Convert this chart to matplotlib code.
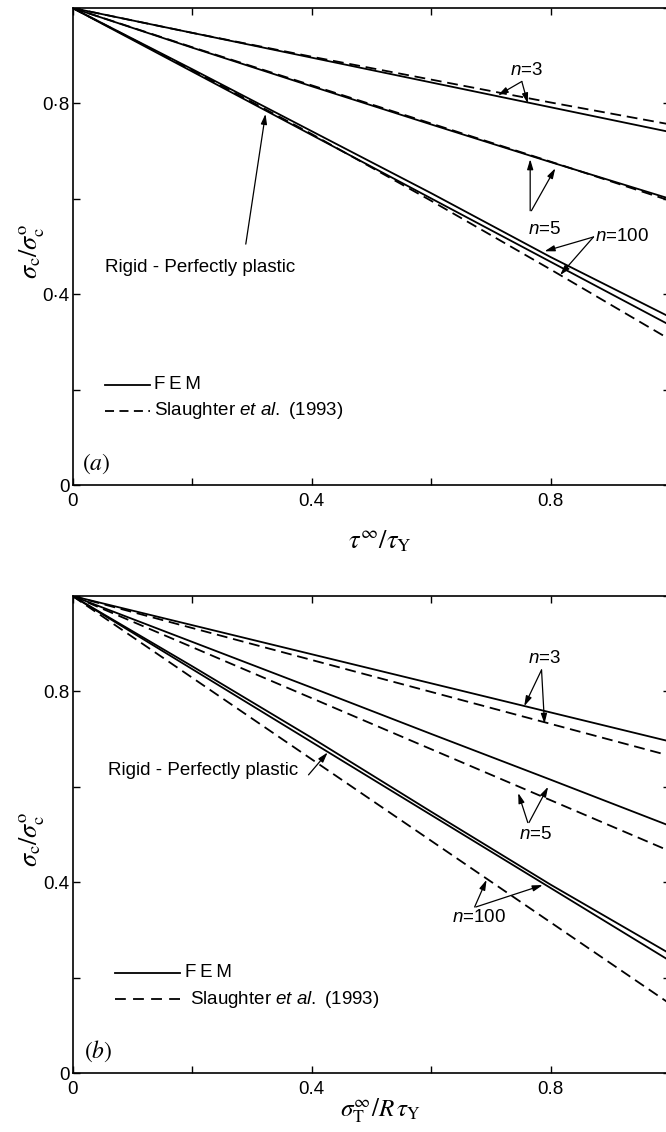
import matplotlib
matplotlib.use("Agg")
import matplotlib.pyplot as plt

plt.rcParams['font.family'] = ['Liberation Sans', 'DejaVu Sans']
plt.rcParams['mathtext.fontset'] = 'custom'
plt.rcParams['mathtext.rm'] = 'Liberation Sans'
plt.rcParams['mathtext.it'] = 'Liberation Sans:italic'

# ---------------- data ----------------
x_vals = [0.0, 0.2, 0.4, 0.6, 0.8, 1.0]

# panel (a): shear loading
a_n3_fem = [1.0, 0.948, 0.896, 0.844, 0.792, 0.740]
a_n3_sl = [1.0, 0.948, 0.898, 0.850, 0.802, 0.756]
a_n5_fem = [1.0, 0.917, 0.836, 0.756, 0.677, 0.600]
a_n5_sl = [1.0, 0.918, 0.838, 0.758, 0.678, 0.596]
a_n100_fem = [1.0, 0.872, 0.742, 0.612, 0.478, 0.352]
a_n100_sl = [1.0, 0.870, 0.736, 0.596, 0.452, 0.305]
a_rpp = [1.0, 0.867, 0.734, 0.601, 0.468, 0.335]

# panel (b): transverse loading
b_n3_fem = [1.0, 0.939, 0.878, 0.817, 0.756, 0.695]
b_n3_sl = [1.0, 0.933, 0.866, 0.799, 0.732, 0.665]
b_n5_fem = [1.0, 0.904, 0.808, 0.711, 0.615, 0.518]
b_n5_sl = [1.0, 0.893, 0.786, 0.679, 0.572, 0.465]
b_n100_fem = [1.0, 0.853, 0.703, 0.548, 0.395, 0.250]
b_n100_sl = [1.0, 0.829, 0.658, 0.487, 0.316, 0.145]
b_rpp = [1.0, 0.847, 0.694, 0.541, 0.388, 0.235]

tick_pos = [0.0, 0.2, 0.4, 0.6, 0.8, 1.0]
a_xticklabels = ['0', '', '0.4', '', '0.8', '']
a_yticklabels = ['0', '', '0\u00b74', '', '0\u00b78', '']
b_xticklabels = ['0', '', '0.4', '', '0.8', '']
b_yticklabels = ['0', '', '0.4', '', '0.8', '']

LW = 1.3
DASH = (6, 3.2)
FS = 13.5

fig = plt.figure(figsize=(6.66, 11.32), dpi=100)
W, H = 666.0, 1132.0
ax_a = fig.add_axes([72.5 / W, (H - 485) / H, 597.5 / W, 477 / H])
ax_b = fig.add_axes([72.5 / W, (H - 1073) / H, 597.5 / W, 477 / H])


def style_axes(ax, xtl, ytl):
    ax.set_xlim(0, 1.0)
    ax.set_ylim(0, 1.0)
    ax.set_xticks(tick_pos)
    ax.set_yticks(tick_pos)
    ax.set_xticklabels(xtl)
    ax.set_yticklabels(ytl)
    ax.tick_params(direction='in', top=True, right=True, length=5, width=1.0,
                   labelsize=FS, color='black')
    ax.tick_params(axis='y', pad=2)
    ax.tick_params(axis='x', pad=6)
    for s in ax.spines.values():
        s.set_linewidth(1.2)


def arrow(ax, tail, tip):
    ax.annotate('', xy=tip, xytext=tail,
                arrowprops=dict(arrowstyle='-|>,head_length=0.6,head_width=0.18',
                                color='black', lw=0.9, shrinkA=0, shrinkB=0))


# ---------------- panel (a) ----------------
ax = ax_a
for ys in (a_n3_fem, a_n5_fem, a_n100_fem, a_rpp):
    ax.plot(x_vals, ys, color='black', lw=LW)
for ys in (a_n3_sl, a_n5_sl, a_n100_sl):
    ax.plot(x_vals, ys, color='black', lw=LW, dashes=DASH)
style_axes(ax, a_xticklabels, a_yticklabels)

ax.text(0.76, 0.868, r'$n$=3', fontsize=FS, ha='center', va='center')
arrow(ax, (0.752, 0.846), (0.712, 0.817))
arrow(ax, (0.752, 0.846), (0.762, 0.800))

ax.text(0.79, 0.535, r'$n$=5', fontsize=FS, ha='center', va='center')
arrow(ax, (0.766, 0.575), (0.766, 0.683))
arrow(ax, (0.768, 0.575), (0.808, 0.664))

ax.text(0.875, 0.52, r'$n$=100', fontsize=FS, ha='left', va='center')
arrow(ax, (0.872, 0.52), (0.79, 0.49))
arrow(ax, (0.872, 0.52), (0.816, 0.44))

ax.text(0.054, 0.455, 'Rigid - Perfectly plastic', fontsize=FS, ha='left', va='center')
arrow(ax, (0.29, 0.505), (0.323, 0.778))

ax.plot([0.054, 0.13], [0.21, 0.21], color='black', lw=LW)
ax.text(0.136, 0.21, 'F\u2009E\u2009M', fontsize=FS, ha='left', va='center')
ax.plot([0.054, 0.13], [0.156, 0.156], color='black', lw=LW, dashes=(5, 3))
ax.text(0.136, 0.156, r'Slaughter $et\ al.$ (1993)', fontsize=FS, ha='left', va='center')

ax.text(0.016, 0.045, r'$(\mathit{a})$', fontsize=17, ha='left', va='center',
        math_fontfamily='stix')

ax.set_xlabel(r'$\tau^{\infty}/\tau_{\mathrm{Y}}$', fontsize=19, math_fontfamily='stix')
ax.xaxis.set_label_coords(0.515, -0.09)
ax.set_ylabel(r'$\sigma_{\mathrm{c}}/\sigma_{\mathrm{c}}^{\mathrm{o}}$', fontsize=19,
              math_fontfamily='stix')
ax.yaxis.set_label_coords(-0.042, 0.49)

# ---------------- panel (b) ----------------
ax = ax_b
for ys in (b_n3_fem, b_n5_fem, b_n100_fem, b_rpp):
    ax.plot(x_vals, ys, color='black', lw=LW)
for ys in (b_n3_sl, b_n5_sl, b_n100_sl):
    ax.plot(x_vals, ys, color='black', lw=LW, dashes=DASH)
style_axes(ax, b_xticklabels, b_yticklabels)

ax.text(0.79, 0.868, r'$n$=3', fontsize=FS, ha='center', va='center')
arrow(ax, (0.785, 0.845), (0.756, 0.769))
arrow(ax, (0.785, 0.845), (0.79, 0.732))

ax.text(0.775, 0.50, r'$n$=5', fontsize=FS, ha='center', va='center')
arrow(ax, (0.762, 0.525), (0.746, 0.587))
arrow(ax, (0.764, 0.525), (0.796, 0.60))

ax.text(0.68, 0.325, r'$n$=100', fontsize=FS, ha='center', va='center')
arrow(ax, (0.673, 0.348), (0.693, 0.405))
arrow(ax, (0.675, 0.348), (0.787, 0.394))

ax.text(0.06, 0.635, 'Rigid - Perfectly plastic', fontsize=FS, ha='left', va='center')
arrow(ax, (0.395, 0.625), (0.427, 0.672))

ax.plot([0.071, 0.18], [0.21, 0.21], color='black', lw=LW)
ax.text(0.188, 0.21, 'F\u2009E\u2009M', fontsize=FS, ha='left', va='center')
ax.plot([0.071, 0.18], [0.155, 0.155], color='black', lw=LW, dashes=(6, 4))
ax.text(0.196, 0.155, r'Slaughter $et\ al.$ (1993)', fontsize=FS, ha='left', va='center')

ax.text(0.02, 0.045, r'$(\mathit{b})$', fontsize=17, ha='left', va='center',
        math_fontfamily='stix')

ax.set_xlabel(r'$\sigma_{\mathrm{T}}^{\infty}/R\,\tau_{\mathrm{Y}}$', fontsize=18,
              math_fontfamily='stix')
ax.xaxis.set_label_coords(0.515, -0.05)
ax.set_ylabel(r'$\sigma_{\mathrm{c}}/\sigma_{\mathrm{c}}^{\mathrm{o}}$', fontsize=19,
              math_fontfamily='stix')
ax.yaxis.set_label_coords(-0.042, 0.49)

fig.savefig('out.png', dpi=100)
